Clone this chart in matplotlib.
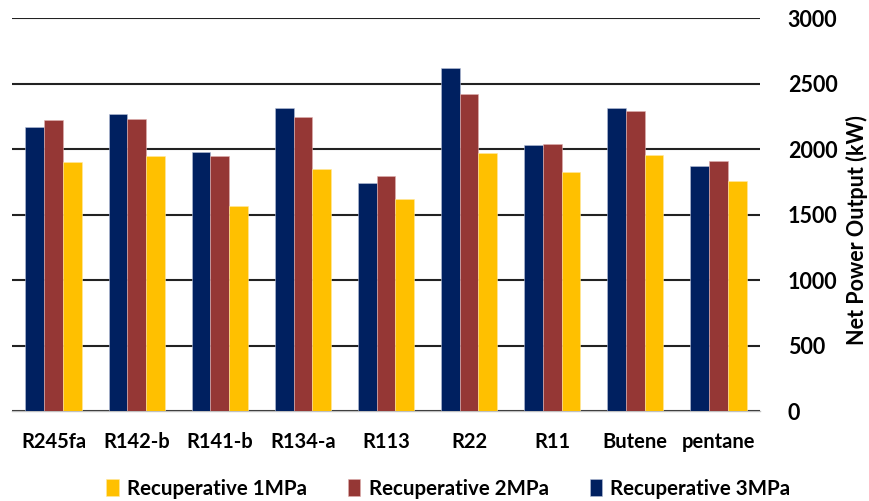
import matplotlib.pyplot as plt
import numpy as np

# fluids and net power output (kW)
fluids = ['R245fa', 'R142-b', 'R141-b', 'R134-a', 'R113', 'R22', 'R11', 'Butene', 'pentane']
rec_3mpa = [2168, 2267, 1975, 2313, 1740, 2618, 2028, 2313, 1868]
rec_2mpa = [2219, 2231, 1944, 2244, 1794, 2417, 2035, 2290, 1908]
rec_1mpa = [1898, 1944, 1565, 1845, 1618, 1969, 1824, 1957, 1756]
yticks = [0, 500, 1000, 1500, 2000, 2500, 3000]

plt.rcParams['font.family'] = ['Lato', 'DejaVu Sans']
plt.rcParams['font.weight'] = 'bold'

fig = plt.figure(figsize=(8.69, 5.01), dpi=100)
ax = fig.add_axes([0.0138, 0.1796, 0.8608, 0.7844])

x = np.arange(len(fluids))
w = 0.225
b3 = ax.bar(x - w, rec_3mpa, w, color='#002060', edgecolor='#b8c0d8', linewidth=0.4, zorder=3)
b2 = ax.bar(x, rec_2mpa, w, color='#953735', edgecolor='#e0b0b0', linewidth=0.4, zorder=3)
b1 = ax.bar(x + w, rec_1mpa, w, color='#FFC000', edgecolor='#ffe8a0', linewidth=0.4, zorder=3)

ax.set_xlim(-0.5, len(fluids) - 0.5)
ax.set_ylim(0, 3000)
ax.set_yticks(yticks)
ax.yaxis.tick_right()
ax.yaxis.set_label_position('right')
ax.grid(axis='y', color='#222222', linewidth=1.5, zorder=0)
for s in ['top', 'left', 'right']:
    ax.spines[s].set_visible(False)
ax.spines['bottom'].set_color('#bfbfbf')
ax.spines['bottom'].set_linewidth(1.0)
ax.tick_params(axis='y', length=0, pad=20, labelsize=15.5)
ax.tick_params(axis='x', length=0, pad=15, labelsize=14.5)
ax.set_xticks(x)
ax.set_xticklabels(fluids)
for t in ax.get_yticklabels() + ax.get_xticklabels():
    t.set_fontweight('bold')
ax.set_ylabel('Net Power Output (kW)', fontsize=15.5, fontweight='bold', labelpad=4)
ax.yaxis.set_label_coords(1.115, 0.46)

fig.legend([b1, b2, b3], ['Recuperative 1MPa', 'Recuperative 2MPa', 'Recuperative 3MPa'],
           loc='center', bbox_to_anchor=(0.516, 0.024), ncol=3, frameon=False,
           prop={'size': 14.8, 'weight': 'bold'}, handlelength=0.6, handleheight=0.9,
           handletextpad=0.4, columnspacing=2.0)

fig.savefig('out.png', dpi=100)
